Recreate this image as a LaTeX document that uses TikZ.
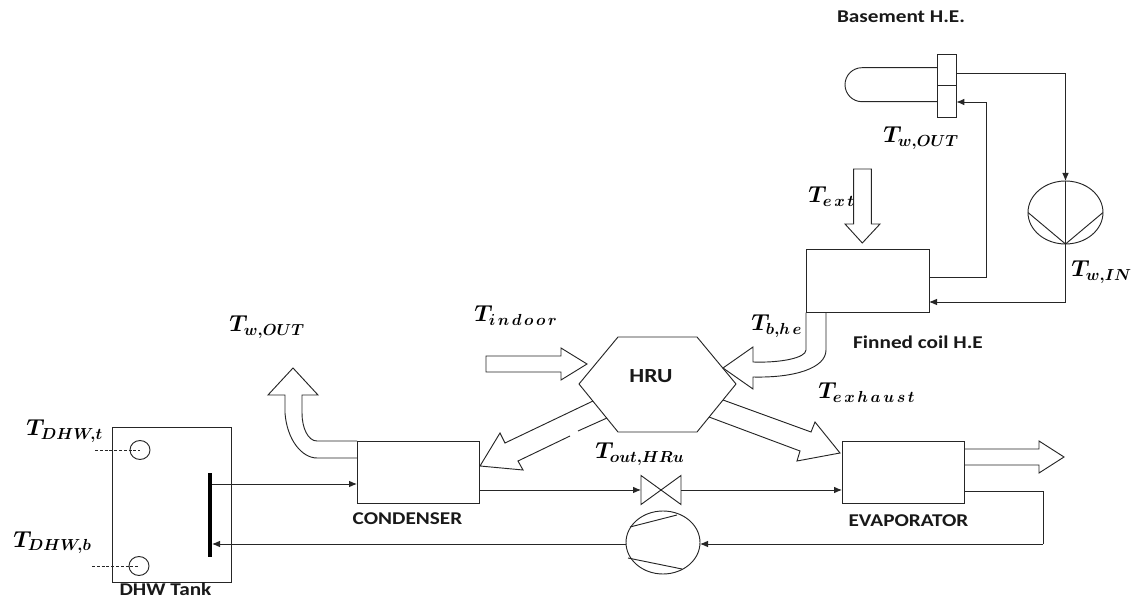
\documentclass[tikz,border=0pt]{standalone}
\usepackage{fontspec}
\setmainfont{Carlito}
\newfontfamily\lab[FakeStretch=1.18]{Carlito}
\usetikzlibrary{arrows.meta,shapes.geometric}
\AtBeginDocument{\boldmath}
\newcommand\ls{\mkern2.5mu}
\tikzset{
  x=0.75pt,y=-0.75pt,
  line/.style={draw=black!85,line width=0.7pt},
  flow/.style={line,-{Latex[length=6pt,width=5pt]}},
  box/.style={line,rectangle,inner sep=0pt,outer sep=0pt},
  round/.style={line,ellipse,inner sep=0pt,outer sep=0pt},
  fat/.style={line,line join=miter},
  word/.style={inner sep=0pt,font=\lab\bfseries\fontsize{13.5}{15}\selectfont,text=black!90},
  tempsym/.style={inner sep=0pt,anchor=base west,text=black,font=\fontsize{17.28}{20}\selectfont},
  probe/.style={line,dash pattern=on 2.2pt off 1.4pt,line width=0.5pt},
}
\begin{document}
\begin{tikzpicture}
\useasboundingbox (0,0) rectangle (1143,598);
% equipment
\node[box,minimum width=91.5pt,minimum height=46.5pt] (cond) at (418,472) {};
\node[box,minimum width=91.5pt,minimum height=46.5pt] (evap) at (903,472) {};
\node[box,minimum width=92.25pt,minimum height=47pt] (coil) at (867.5,281.3) {};
\node[box,minimum width=89.25pt,minimum height=116.25pt] (tank) at (171.5,504.5) {};
\node[box,minimum width=14pt,minimum height=47pt] (bhe) at (947,85.7) {};
\node[round,minimum width=56.25pt,minimum height=47.25pt] (pump) at (1065.5,212.5) {};
\node[round,minimum width=55.5pt,minimum height=47.25pt] (comp) at (663,542.5) {};
\node[inner sep=0pt,outer sep=0pt,minimum width=30pt,minimum height=21.75pt] (valve) at (661,490) {};
\node[inner sep=0pt,outer sep=0pt,minimum width=3pt,minimum height=63pt,fill=black] (bar) at (210,515) {};
\node[round,minimum width=15pt,minimum height=14.25pt] (st) at (140,450) {};
\node[round,minimum width=15pt,minimum height=14.25pt] (sb) at (139,566) {};
% hexagon HRU
\node[word,font=\lab\bfseries\fontsize{15}{17}\selectfont] (hru) at (651,376) {HRU};
\draw[fat] (579,384) -- (618,337) -- (697,337) -- (736,384) -- (697,432) -- (618,432) -- cycle;
% basement exchanger
\draw[line] (bhe.west |- 0,85.7) -- (bhe.east |- 0,85.7);
\draw[line] (bhe.west |- 0,67.7) -- (862,67.7) arc[start angle=90,end angle=270,x radius=17,y radius=-17] -- (bhe.west |- 0,101.7);
% pump internals
\coordinate (pl) at (pump.west);
\coordinate (pr) at (pump.east);
\draw[line] (pl) -- (pump.south) -- (pr);
\draw[line] (pump.north) -- (pump.south);
% valve
\draw[line] (valve.north west) -- (valve.south east) -- (valve.north east) -- (valve.south west) -- cycle;
% compressor
\coordinate (c1) at (630,527);
\coordinate (c2) at (677,515);
\coordinate (c3) at (628,558);
\coordinate (c4) at (682,569);
\draw[line] (c1) -- (c2);
\draw[line] (c3) -- (c4);
% connectors
\coordinate (bout) at (bhe.east |- 0,73.5);
\coordinate (bin) at (bhe.east |- 0,102);
\coordinate (coilout) at (coil.east |- 0,277);
\coordinate (coilin) at (coil.east |- 0,302);
\coordinate (evapout) at (evap.east |- 0,491);
\coordinate (corner) at (1043,544);
\coordinate (tankin) at (bar.east |- 0,544);
\coordinate (tankout) at (bar.east |- 0,484);
\draw[flow] (bout) -| (pump.north);
\draw[flow] (pump.south) |- (coilin);
\draw[flow] (coilout) -- (986,277) |- (bin);
\draw[flow] (valve.west -| cond.east) -- (valve.west);
\draw[flow] (valve.east) -- (valve.east -| evap.west);
\draw[line] (evapout) -| (corner);
\draw[flow] (corner) -- (comp.east |- corner);
\draw[flow] (comp.west |- corner) -- (tankin);
\draw[flow] (tankout) -- (cond.west |- tankout);
% probes
\coordinate (pt) at (95,450);
\coordinate (pb) at (92,566);
\draw[probe] (pt) -- (st.center);
\draw[probe] (pb) -- (sb.center);
% fat arrows
\draw[fat] (853.7,169) -- (871.3,169) -- (871.3,224) -- (880,224) -- (862.3,243) -- (845,224) -- (853.7,224) -- cycle;
\draw[fat] (486,356) -- (561,356) -- (561,348) -- (587,364) -- (561,380) -- (561,372) -- (486,372) -- cycle;
\draw[fat] (964,449) -- (1039,449) -- (1039,441) -- (1064,457) -- (1039,473) -- (1039,465) -- (964,465);
\draw[fat] (806,312.7) -- (806,350) .. controls (806,358) and (780,363) .. (753,362) -- (753,347) -- (723,368) -- (753,389) -- (753,377) .. controls (795,378) and (826,368) .. (826,350) -- (826,312.7);
\draw[fat] (593,401) -- (505,443) -- (500,433) -- (480,466) -- (523,470) -- (518,461) -- (570,436);
\draw[fat] (578,431) -- (607,418);
\draw[fat] (723,400) -- (811,432) -- (815,422) -- (840,453) -- (797,461) -- (800,451) -- (709,417);
\draw[fat] (357,441) -- (317,441) .. controls (308,441) and (302,428) .. (302,413) -- (302,395) -- (318,395) -- (293,368) -- (268,395) -- (285,395) -- (285,413) .. controls (287,440) and (302,458) .. (317,458) -- (357,458);
% words
\node[word] (l1) at (901,17) {Basement H.E.};
\node[word] (l2) at (918,342) {Finned coil H.E};
\node[word] (l3) at (407.5,519) {CONDENSER};
\node[word] (l4) at (908.5,521) {EVAPORATOR};
\node[word] (l5) at (165.5,589) {DHW Tank};
% temperatures
\node[tempsym] (t1) at (229,332) {$T_{w,OUT}$};
\node[tempsym] (t2) at (883,143) {$T_{w,OUT}$};
\node[tempsym] (t3) at (808,203) {$T_{e\ls x\ls t}$};
\node[tempsym] (t4) at (1071,277) {$T_{w,IN}$};
\node[tempsym] (t5) at (751,331) {$T_{b,h\ls e}$};
\node[tempsym] (t6) at (474,322) {$T_{i\ls n\ls d\ls o\ls o\ls r}$};
\node[tempsym] (t7) at (818,399) {$T_{e\ls x\ls h\ls a\ls u\ls s\ls t}$};
\node[tempsym] (t8) at (595,459) {$T_{out,HRu}$};
\node[tempsym] (t9) at (26,436) {$T_{DHW,t}$};
\node[tempsym] (t10) at (13,547) {$T_{DHW,b}$};
\end{tikzpicture}
\end{document}
